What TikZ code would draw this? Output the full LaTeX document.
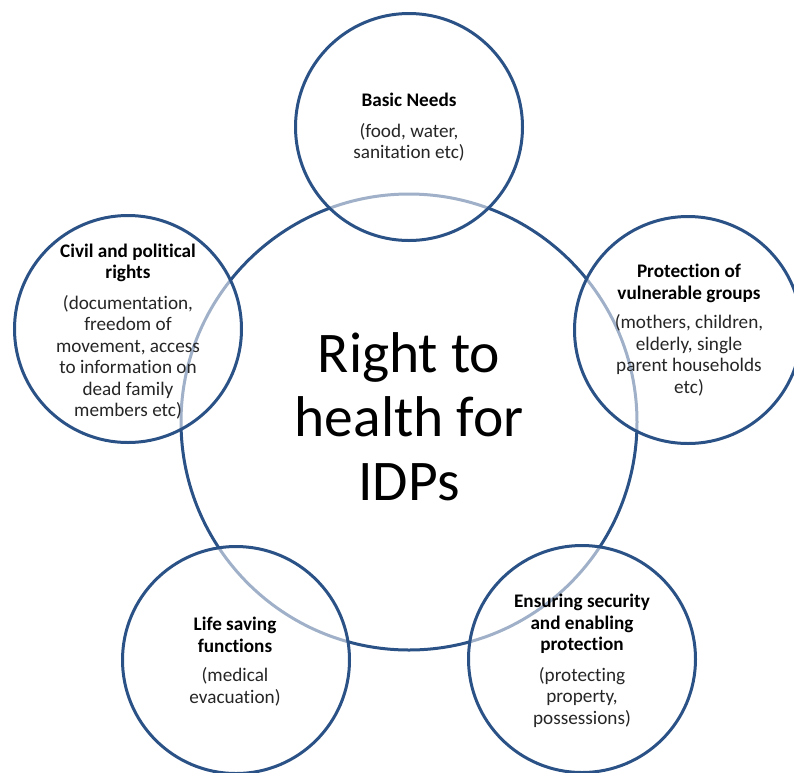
\documentclass[tikz,border=0pt]{standalone}
\usepackage{fontspec}
\setmainfont{Carlito}[Ligatures=NoCommon]
\definecolor{ringblue}{HTML}{2B5286}
\definecolor{bodygray}{HTML}{262626}
\begin{document}
\begin{tikzpicture}[x=1pt,y=-1pt,
  ring/.style={circle,draw=ringblue,line width=3pt,inner sep=0pt},
  bigring/.style={ring,minimum size=456pt,fill=white},
  smallring/.style={ring,minimum size=227pt,fill=white,fill opacity=0.55},
  lbl/.style={anchor=north,align=center,inner sep=0pt,text=bodygray,font=\fontsize{19.2}{21.5}\selectfont},
  hublbl/.style={anchor=north,align=center,inner sep=0pt,text=black,font=\fontsize{57.5}{64}\selectfont}
  ]
\useasboundingbox (0,0) rectangle (794,772);
\node[bigring] (hub) at (409,422) {};
\node[smallring] (basic) at (409,127) {};
\node[smallring] (prot) at (688,330) {};
\node[smallring] (civil) at (128,329) {};
\node[smallring] (life) at (236,660) {};
\node[smallring] (secu) at (582,659) {};
\node[hublbl] (hubtxt) at (409,332.5) {Right to\\health for\\IDPs};
\node[lbl] (basictxt) at (409,93) {\textbf{\color{black}Basic Needs}\\[9pt](food, water,\\sanitation etc)};
\node[lbl] (prottxt) at (689,264) {\textbf{\color{black}Protection of}\\\textbf{\color{black}vulnerable groups}\\[8pt](mothers, children,\\elderly, single\\parent households\\etc)};
\node[lbl] (civiltxt) at (128,243.5) {\textbf{\color{black}Civil and political}\\\textbf{\color{black}rights}\\[9pt](documentation,\\freedom of\\movement, access\\to information on\\dead family\\members etc)};
\node[lbl] (lifetxt) at (235,617) {\textbf{\color{black}Life saving}\\\textbf{\color{black}functions}\\[8pt](medical\\evacuation)};
\node[lbl] (secutxt) at (582,594) {\textbf{\color{black}Ensuring security}\\\textbf{\color{black}and enabling}\\\textbf{\color{black}protection}\\[9pt](protecting\\property,\\possessions)};
\end{tikzpicture}
\end{document}
